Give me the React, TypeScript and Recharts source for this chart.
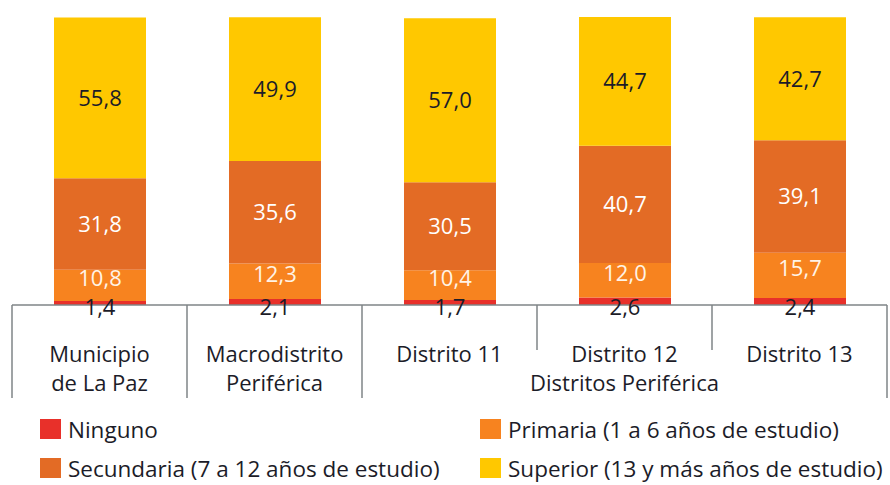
import React from "react";
import { BarChart, Bar, XAxis, YAxis, LabelList } from "recharts";

const categories = ["Municipio\nde La Paz", "Macrodistrito\nPeriférica", "Distrito 11", "Distrito 12", "Distrito 13"];
const ninguno = [1.4, 2.1, 1.7, 2.6, 2.4];
const primaria = [10.8, 12.3, 10.4, 12.0, 15.7];
const secundaria = [31.8, 35.6, 30.5, 40.7, 39.1];
const superior = [55.8, 49.9, 57.0, 44.7, 42.7];
const groupLabel = "Distritos Periférica";

const COLORS = { ninguno: "#e8302a", primaria: "#f7831f", secundaria: "#e36b25", superior: "#ffc800" };
const FONT = "'Open Sans', Lato, sans-serif";
const FS = 22;
const TEXT = "#1c1c28";
const GRID = "#7f8487";

const W = 890;
const H = 410;
const M = { top: 17, right: 3, left: 12, bottom: 0 };
const BAND = (W - M.left - M.right) / categories.length;

const data = categories.map((c, i) => ({
  name: c,
  ninguno: ninguno[i],
  primaria: primaria[i],
  secundaria: secundaria[i],
  superior: superior[i],
}));

const fmt = (v: number) => v.toFixed(1).replace(".", ",");

function CatTick(props: any) {
  const { x, y, payload, index } = props;
  const lines = String(payload.value).split("\n");
  const short = index === 3 || index === 4;
  const last = index === categories.length - 1;
  return (
    <g>
      <line x1={x - BAND / 2} x2={x - BAND / 2} y1={y} y2={y + (short ? 45 : 93)} stroke={GRID} strokeWidth={1.5} />
      {last && <line x1={x + BAND / 2} x2={x + BAND / 2} y1={y} y2={y + 93} stroke={GRID} strokeWidth={1.5} />}
      {lines.map((l, k) => (
        <text key={k} x={x} y={y + 57 + k * 29} textAnchor="middle" fontSize={FS} fontFamily={FONT} fill={TEXT}>
          {l}
        </text>
      ))}
      {index === 3 && (
        <text x={x} y={y + 86} textAnchor="middle" fontSize={FS} fontFamily={FONT} fill={TEXT}>
          {groupLabel}
        </text>
      )}
    </g>
  );
}

function BelowLabel(props: any) {
  const { x, y, width, height, value } = props;
  return (
    <text x={x + width / 2} y={y + height + 10} textAnchor="middle" fontSize={FS} fontFamily={FONT} fill={TEXT}>
      {fmt(value)}
    </text>
  );
}

const legendItems = [
  { key: "ninguno", label: "Ninguno" },
  { key: "primaria", label: "Primaria (1 a 6 años de estudio)" },
  { key: "secundaria", label: "Secundaria (7 a 12 años de estudio)" },
  { key: "superior", label: "Superior (13 y más años de estudio)" },
];

export default function App() {
  return (
    <div style={{ position: "absolute", left: 0, top: 0, width: W, height: 485, background: "#fff", fontFamily: FONT }}>
      <BarChart width={W} height={H} data={data} margin={M}>
        <YAxis hide domain={[0, 100]} />
        <XAxis
          dataKey="name"
          height={H - 305}
          interval={0}
          tickSize={0}
          tickMargin={0}
          tickLine={false}
          axisLine={{ stroke: GRID, strokeWidth: 1.5 }}
          tick={<CatTick />}
        />
        <Bar dataKey="ninguno" stackId="a" fill={COLORS.ninguno} barSize={92} isAnimationActive={false}>
          <LabelList dataKey="ninguno" content={<BelowLabel />} />
        </Bar>
        <Bar dataKey="primaria" stackId="a" fill={COLORS.primaria} barSize={92} isAnimationActive={false}>
          <LabelList dataKey="primaria" position="center" formatter={(v: any) => fmt(v)} fill="#fff3e6" fontSize={FS} fontFamily={FONT} dy={-7} />
        </Bar>
        <Bar dataKey="secundaria" stackId="a" fill={COLORS.secundaria} barSize={92} isAnimationActive={false}>
          <LabelList dataKey="secundaria" position="center" formatter={(v: any) => fmt(v)} fill="#ffffff" fontSize={FS} fontFamily={FONT} />
        </Bar>
        <Bar dataKey="superior" stackId="a" fill={COLORS.superior} barSize={92} isAnimationActive={false}>
          <LabelList dataKey="superior" position="center" formatter={(v: any) => fmt(v)} fill={TEXT} fontSize={FS} fontFamily={FONT} />
        </Bar>
      </BarChart>

      {/* legend, 2 x 2 */}
      {legendItems.map((it, i) => (
        <div
          key={it.key}
          style={{
            position: "absolute",
            left: i % 2 === 0 ? 40 : 480,
            top: i < 2 ? 419 : 458,
            display: "flex",
            alignItems: "center",
            height: 20,
            fontSize: 22.5,
            color: TEXT,
            whiteSpace: "nowrap",
          }}
        >
          <span style={{ width: 21, height: 20, background: (COLORS as any)[it.key], marginRight: 7, display: "inline-block" }} />
          {it.label}
        </div>
      ))}
    </div>
  );
}
